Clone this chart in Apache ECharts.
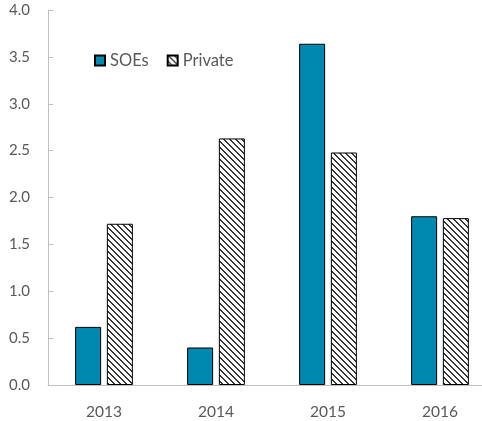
<!DOCTYPE html>
<html>
<head>
<meta charset="utf-8">
<script src="https://cdn.jsdelivr.net/npm/echarts@6/dist/echarts.min.js"></script>
<style>
  html, body { margin: 0; padding: 0; background: #fff; overflow: hidden; }
  /* the source chart runs past the right edge, so the canvas is wider than the window */
  #main { width: 496px; height: 421px; }
</style>
</head>
<body>
<div id="main"></div>
<script>
// data
var years = ['2013', '2014', '2015', '2016'];
var soes = [0.62, 0.40, 3.64, 1.80];
var priv = [1.72, 2.63, 2.48, 1.78];

// diagonal hatch for the private bars
function hatch() {
  var c = document.createElement('canvas');
  c.width = 6; c.height = 6;
  var ctx = c.getContext('2d');
  ctx.fillStyle = '#fff';
  ctx.fillRect(0, 0, 6, 6);
  ctx.fillStyle = '#3a3a3a';
  for (var x = 0; x < 6; x++) {
    for (var y = 0; y < 6; y++) {
      if (((x - y + 6) % 6) < 2) ctx.fillRect(x, y, 1, 1);
    }
  }
  return c;
}

var myChart = echarts.init(document.getElementById('main'));
var font = 'Lato, "Open Sans", sans-serif';
var option = {
  animation: false,
  textStyle: { fontFamily: font },
  grid: { left: 48, top: 10, bottom: 36, right: 0, containLabel: false },
  legend: {
    left: 89,
    top: 47,
    icon: 'rect',
    itemWidth: 10,
    itemHeight: 10,
    itemGap: 18,
    textStyle: { fontSize: 16.5, color: '#595959', fontFamily: font },
    data: ['SOEs', 'Private']
  },
  xAxis: {
    type: 'category',
    data: years,
    axisLine: { lineStyle: { color: '#bfbfbf' } },
    axisTick: { inside: true, length: 5, lineStyle: { color: '#bfbfbf' } },
    axisLabel: { color: '#595959', fontSize: 15.5, margin: 19 }
  },
  yAxis: {
    type: 'value',
    min: 0,
    max: 4,
    interval: 0.5,
    splitLine: { show: false },
    axisLine: { show: true, lineStyle: { color: '#bfbfbf' } },
    axisTick: { show: true, inside: true, length: 5, lineStyle: { color: '#bfbfbf' } },
    axisLabel: {
      color: '#595959',
      fontSize: 15,
      margin: 18,
      formatter: function (v) { return v.toFixed(1); }
    }
  },
  series: [
    {
      name: 'SOEs',
      type: 'bar',
      data: soes,
      barWidth: 26,
      barGap: '22%',
      itemStyle: { color: '#0089b0', borderColor: '#000', borderWidth: 1 }
    },
    {
      name: 'Private',
      type: 'bar',
      data: priv,
      barWidth: 26,
      itemStyle: {
        color: { image: hatch(), repeat: 'repeat' },
        borderColor: '#000',
        borderWidth: 1
      }
    }
  ]
};
myChart.setOption(option);
</script>
</body>
</html>
